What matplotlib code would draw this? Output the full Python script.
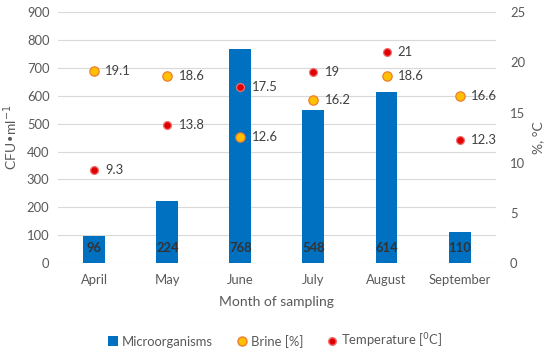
import matplotlib
matplotlib.use("Agg")
import matplotlib.pyplot as plt
from matplotlib.lines import Line2D
from matplotlib.patches import Patch
import numpy as np

plt.rcParams['font.family'] = ['Lato', 'DejaVu Sans']

months = ['April', 'May', 'June', 'July', 'August', 'September']
microorganisms = [96, 224, 768, 548, 614, 110]
brine = [19.1, 18.6, 12.6, 16.2, 18.6, 16.6]
temperature = [9.3, 13.8, 17.5, 19, 21, 12.3]

blue = '#0070C0'
orange = '#FFC000'
orange_edge = '#ED7D31'
red = '#E00000'
red_edge = '#F07070'
txt = '#595959'
fs = 9.4

fig = plt.figure(figsize=(5.5, 3.57), dpi=100)
ax = fig.add_axes([0.105, 0.263, 0.797, 0.703])
x = np.arange(len(months))

ax.bar(x, microorganisms, width=0.3, color=blue, zorder=2)
for xi, v in zip(x, microorganisms):
    ax.text(xi, 55, str(v), ha='center', va='center', fontsize=fs, color='#333333',
            fontweight='bold', zorder=3)

ax.set_xlim(-0.5, len(months) - 0.5)
ax.set_ylim(0, 900)
ax.set_yticks(np.arange(0, 901, 100))
ax.set_xticks(x)
ax.set_xticklabels(months)
ax.grid(axis='y', color='#D9D9D9', lw=0.8, zorder=0)
ax.set_axisbelow(True)
for s in ax.spines.values():
    s.set_visible(False)
ax.tick_params(length=0, labelsize=fs, colors=txt, pad=6)
ax.tick_params(axis='x', pad=8)
ax.set_ylabel('CFU•ml$^{-1}$', fontsize=10, color=txt, labelpad=5)
ax.set_xlabel('Month of sampling', fontsize=10, color=txt, labelpad=7)

ax2 = ax.twinx()
ax2.set_ylim(0, 25)
ax2.set_yticks(np.arange(0, 26, 5))
for s in ax2.spines.values():
    s.set_visible(False)
ax2.tick_params(length=0, labelsize=fs, colors=txt, pad=10)
ax2.set_ylabel('%, °C', fontsize=10, color=txt, labelpad=5)

ax2.scatter(x, brine, s=45, color=orange, edgecolors=orange_edge, linewidths=0.9, zorder=4)
ax2.scatter(x, temperature, s=32, color=red, edgecolors=red_edge, linewidths=0.9, zorder=4)
for xi, b, t in zip(x, brine, temperature):
    ax2.annotate(f'{b:g}', (xi, b), xytext=(8, 0), textcoords='offset points',
                 va='center', ha='left', fontsize=fs, color='#404040')
    ax2.annotate(f'{t:g}', (xi, t), xytext=(8, 0), textcoords='offset points',
                 va='center', ha='left', fontsize=fs, color='#404040')

handles = [
    Patch(facecolor=blue, label='Microorganisms'),
    Line2D([], [], marker='o', ls='none', markersize=6.5, markerfacecolor=orange,
           markeredgecolor=orange_edge, label='Brine [%]'),
    Line2D([], [], marker='o', ls='none', markersize=5.5, markerfacecolor=red,
           markeredgecolor=red_edge, label='Temperature [$^{0}$C]'),
]
fig.legend(handles=handles, loc='center', bbox_to_anchor=(0.5, 0.045), ncol=3, frameon=False,
           fontsize=fs, labelcolor=txt, handlelength=0.8, handletextpad=0.3, columnspacing=1.8)

fig.savefig('out.png', dpi=100)
